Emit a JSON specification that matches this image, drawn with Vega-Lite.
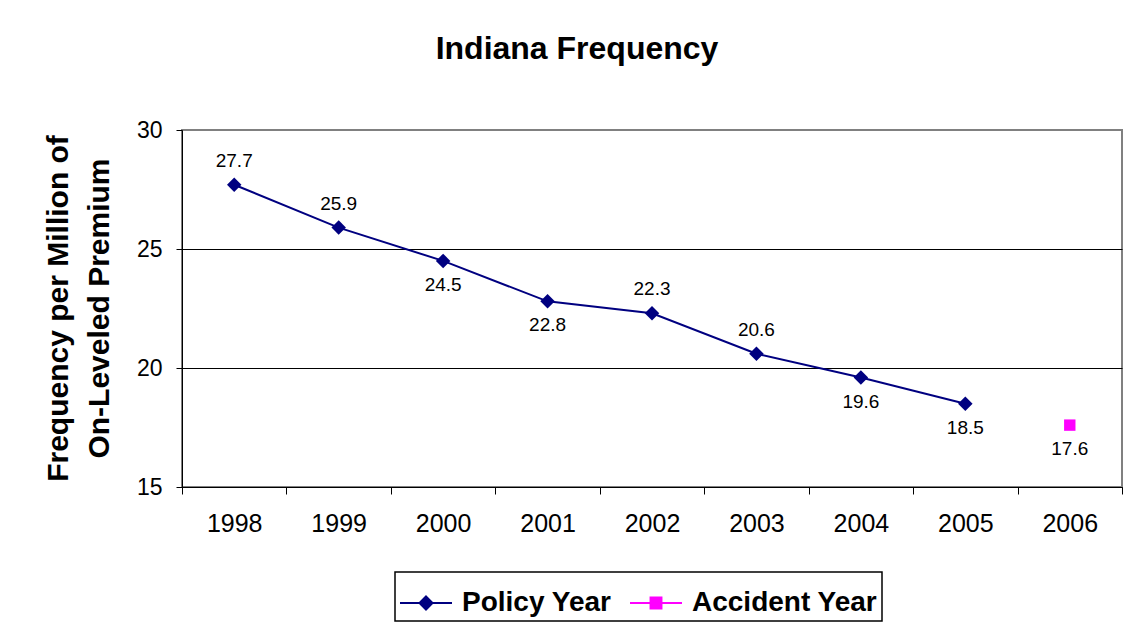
{
  "$schema": "https://vega.github.io/schema/vega-lite/v6.json",
  "width": 940,
  "height": 357,
  "autosize": "none",
  "padding": {"left": 182, "top": 130, "right": 11, "bottom": 140},
  "background": "white",
  "config": {
    "view": {"stroke": "#808080", "strokeWidth": 2},
    "font": "Liberation Sans"
  },
  "title": {
    "text": "Indiana Frequency",
    "font": "Liberation Sans",
    "fontSize": 32,
    "fontWeight": "bold",
    "color": "black",
    "anchor": "middle",
    "frame": "group",
    "dx": -75,
    "offset": 53
  },
  "data": {
    "values": [
      {"year": "1998", "value": 27.7, "series": "Policy Year"},
      {"year": "1999", "value": 25.9, "series": "Policy Year"},
      {"year": "2000", "value": 24.5, "series": "Policy Year"},
      {"year": "2001", "value": 22.8, "series": "Policy Year"},
      {"year": "2002", "value": 22.3, "series": "Policy Year"},
      {"year": "2003", "value": 20.6, "series": "Policy Year"},
      {"year": "2004", "value": 19.6, "series": "Policy Year"},
      {"year": "2005", "value": 18.5, "series": "Policy Year"},
      {"year": "2006", "value": 17.6, "series": "Accident Year"}
    ]
  },
  "encoding": {
    "x": {
      "field": "year",
      "type": "ordinal",
      "scale": {"type": "band", "paddingInner": 0, "paddingOuter": 0},
      "axis": {
        "title": null,
        "labelAngle": 0,
        "tickBand": "extent",
        "domainColor": "black",
        "tickColor": "black",
        "tickSize": 7,
        "labelFont": "Liberation Sans",
        "labelFontSize": 25,
        "labelColor": "black",
        "labelPadding": 17,
        "grid": false
      }
    },
    "y": {
      "field": "value",
      "type": "quantitative",
      "scale": {"domain": [15, 30], "nice": false, "zero": false},
      "axis": {
        "values": [15, 20, 25, 30],
        "grid": true,
        "gridColor": {"condition": {"test": "datum.value == 30", "value": "#808080"}, "value": "black"},
        "gridWidth": 1,
        "domainColor": "black",
        "tickColor": "black",
        "tickSize": 6,
        "labelPadding": 14,
        "labelFont": "Liberation Sans",
        "labelFontSize": 23,
        "labelColor": "black",
        "title": ["Frequency per Million of", "On-Leveled Premium"],
        "titleFont": "Liberation Sans",
        "titleFontSize": 30,
        "titleFontWeight": "bold",
        "titleColor": "black",
        "titleAngle": -90,
        "titleAlign": "center",
        "titleBaseline": "alphabetic",
        "titleX": -115,
        "titleY": 178,
        "titleLineHeight": 41
      }
    }
  },
  "layer": [
    {
      "mark": {"type": "line", "strokeWidth": 2},
      "encoding": {
        "color": {
          "field": "series",
          "type": "nominal",
          "scale": {"domain": ["Policy Year", "Accident Year"], "range": ["#000080", "#FF00FF"]},
          "legend": {
            "orient": "none",
            "legendX": 213,
            "legendY": 442,
            "direction": "horizontal",
            "title": null,
            "strokeColor": "black",
            "padding": 4,
            "labelFont": "Liberation Sans",
            "labelFontSize": 28,
            "labelFontWeight": "bold",
            "labelColor": "black",
            "labelLimit": 300,
            "labelOffset": 9,
            "columnPadding": 14,
            "symbolSize": 2704,
            "symbolStrokeWidth": 2,
            "symbolType": "M-1,0H1M0,-0.25L0.25,0L0,0.25L-0.25,0Z",
            "encode": {
              "symbols": {
                "update": {
                  "shape": {"signal": "datum.value === 'Policy Year' ? 'M-1,0H1M0,-0.25L0.25,0L0,0.25L-0.25,0Z' : 'M-1,0H1M-0.21,-0.21H0.21V0.21H-0.21Z'"},
                  "fill": {"scale": "color", "field": "value"},
                  "stroke": {"scale": "color", "field": "value"},
                  "opacity": {"value": 1}
                }
              },
              "legend": {"update": {"strokeWidth": {"value": 1.5}}}
            }
          }
        }
      }
    },
    {
      "transform": [{"filter": "datum.series === 'Policy Year'"}],
      "mark": {"type": "point", "filled": true, "opacity": 1, "shape": "diamond", "size": 210},
      "encoding": {
        "color": {"field": "series", "type": "nominal", "legend": null}
      }
    },
    {
      "transform": [{"filter": "datum.series === 'Accident Year'"}],
      "mark": {"type": "point", "filled": true, "opacity": 1, "shape": "square", "size": 130},
      "encoding": {
        "color": {"field": "series", "type": "nominal", "legend": null}
      }
    },
    {
      "transform": [{"filter": "indexof(['1998','1999','2002','2003'], datum.year) >= 0"}],
      "mark": {"type": "text", "dy": -24, "fontSize": 19, "font": "Liberation Sans", "color": "black", "baseline": "middle"},
      "encoding": {"text": {"field": "value", "type": "quantitative", "format": ".1f"}}
    },
    {
      "transform": [{"filter": "indexof(['1998','1999','2002','2003'], datum.year) < 0"}],
      "mark": {"type": "text", "dy": 24, "fontSize": 19, "font": "Liberation Sans", "color": "black", "baseline": "middle"},
      "encoding": {"text": {"field": "value", "type": "quantitative", "format": ".1f"}}
    }
  ]
}
